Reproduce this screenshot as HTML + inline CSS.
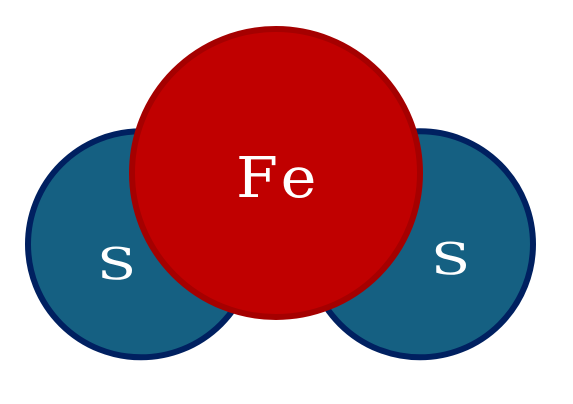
<!DOCTYPE html>
<html>
<head>
<meta charset="utf-8">
<style>
html,body{margin:0;padding:0;background:#fff;width:573px;height:404px;overflow:hidden}
svg{display:block}
text{font-family:"DejaVu Serif",serif;fill:#fff}
</style>
</head>
<body>
<svg width="573" height="404" viewBox="0 0 573 404">
<circle cx="141" cy="244.3" r="113" fill="#156082" stroke="#002060" stroke-width="6"/>
<circle cx="420" cy="244.3" r="113" fill="#156082" stroke="#002060" stroke-width="6"/>
<circle cx="276" cy="173" r="144" fill="#c00000" stroke="#a50000" stroke-width="6"/>
<text x="0" y="0" font-size="56" letter-spacing="5.5" transform="translate(236 197) scale(1.08 1)">Fe</text>
<text x="0" y="0" font-size="44" transform="translate(97 279.5) scale(1.3 1)">S</text>
<text x="0" y="0" font-size="44" transform="translate(431 274.5) scale(1.3 1)">S</text>
</svg>
</body>
</html>
